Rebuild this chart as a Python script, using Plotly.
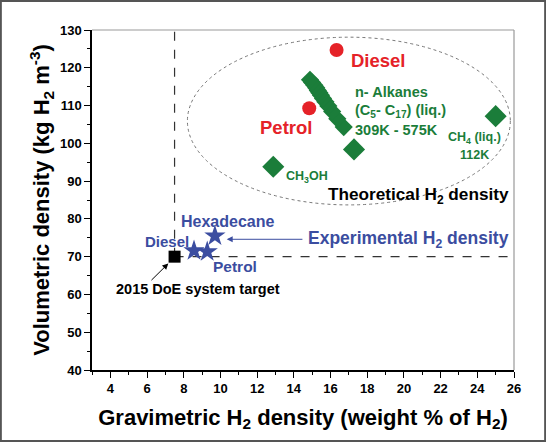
import plotly.graph_objects as go

# Data
theo_red_labels = ["Diesel", "Petrol"]
theo_red_x = [16.33, 14.84]
theo_red_y = [124.7, 109.3]

alkane_names = ["C5", "C6", "C7", "C8", "C9", "C10", "C11", "C12", "C13", "C14", "C15", "C16", "C17"]
alkane_x = [16.72, 16.37, 16.09, 15.88, 15.72, 15.59, 15.48, 15.39, 15.31, 15.22, 15.12, 15.0, 14.88]
alkane_y = [104.3, 106.5, 108.4, 109.9, 111.0, 111.9, 112.7, 113.4, 114.0, 114.7, 115.4, 116.1, 116.8]

other_green_labels = ["?", "CH3OH", "CH4 (liq.)"]
other_green_x = [17.28, 12.88, 25.0]
other_green_y = [98.4, 93.8, 107.2]

exp_labels = ["Hexadecane", "Diesel", "Petrol"]
exp_x = [9.70, 8.56, 9.28]
exp_y = [75.5, 71.6, 71.3]

target_x = [7.5]
target_y = [70.0]

x_ticks = list(range(4, 27, 2))
y_ticks = list(range(40, 131, 10))

RED = "#e52228"
GREEN = "#1b7d3a"
BLUE = "#3b4da0"
FONT = "Liberation Sans, Arial, sans-serif"

fig = go.Figure()

# ellipse
fig.add_shape(type="circle", xref="x", yref="y", x0=8.2, x1=25.8, y0=83.7, y1=128.1,
              line=dict(color="#777777", width=1, dash="dot"), layer="below")
# dashed target lines
fig.add_shape(type="line", xref="x", yref="y", x0=7.5, x1=7.5, y0=70, y1=130,
              line=dict(color="#333333", width=1.2, dash="dash"), layer="below")
fig.add_shape(type="line", xref="x", yref="y", x0=7.5, x1=26, y0=70, y1=70,
              line=dict(color="#333333", width=1.2, dash="dash"), layer="below")

fig.add_trace(go.Scatter(x=alkane_x, y=alkane_y, mode="markers",
                         marker=dict(symbol="diamond", size=14, color=GREEN), showlegend=False))
fig.add_trace(go.Scatter(x=other_green_x, y=other_green_y, mode="markers",
                         marker=dict(symbol="diamond", size=17, color=GREEN), showlegend=False))
fig.add_trace(go.Scatter(x=theo_red_x, y=theo_red_y, mode="markers",
                         marker=dict(symbol="circle", size=14, color=RED), showlegend=False))
fig.add_trace(go.Scatter(x=exp_x, y=exp_y, mode="markers",
                         marker=dict(symbol="star", size=16, color=BLUE), showlegend=False))
fig.add_trace(go.Scatter(x=target_x, y=target_y, mode="markers",
                         marker=dict(symbol="square", size=12, color="black"), showlegend=False))

def txt(x, y, s, color, size, xanchor="center"):
    fig.add_annotation(x=x, y=y, xref="x", yref="y", text="<b>" + s + "</b>", showarrow=False,
                       font=dict(color=color, size=size, family=FONT), xanchor=xanchor, yanchor="middle")

txt(18.64, 121.8, "Diesel", RED, 18.5)
txt(13.55, 104.3, "Petrol", RED, 18.5)
txt(17.25, 113.7, "n- Alkanes", GREEN, 14.5, "left")
txt(17.25, 108.6, "(C<sub>5</sub>- C<sub>17</sub>) (liq.)", GREEN, 14.5, "left")
txt(17.25, 103.4, "309K - 575K", GREEN, 14.5, "left")
txt(23.87, 101.5, "CH<sub>4</sub> (liq.)", GREEN, 12.5)
txt(23.87, 97.0, "112K", GREEN, 12.5)
txt(13.46, 91.2, "CH<sub>3</sub>OH", GREEN, 12.5, "left")
txt(25.85, 86.3, "Theoretical H<sub>2</sub> density", "black", 17.2, "right")
txt(10.37, 79.3, "Hexadecane", BLUE, 16)
txt(7.07, 74.0, "Diesel", BLUE, 15)
txt(10.79, 67.3, "Petrol", BLUE, 15.5)
txt(25.85, 74.6, "Experimental H<sub>2</sub> density", BLUE, 17.5, "right")
txt(8.80, 61.4, "2015 DoE system target", "black", 14.5)

# arrows
fig.add_annotation(x=10.34, y=74.6, ax=14.55, ay=74.6, xref="x", yref="y", axref="x", ayref="y",
                   text="", showarrow=True, arrowhead=2, arrowsize=1.2, arrowwidth=1, arrowcolor=BLUE)
fig.add_annotation(x=7.16, y=68.2, ax=6.16, ay=63.4, xref="x", yref="y", axref="x", ayref="y",
                   text="", showarrow=True, arrowhead=2, arrowsize=1.2, arrowwidth=1, arrowcolor="black")

# outer frame
fig.add_shape(type="rect", xref="paper", yref="paper",
              x0=-92/422 + 0.002, x1=1 + 32/422 - 0.002, y0=-72/340 + 0.003, y1=1 + 30/340 - 0.003,
              line=dict(color="#555555", width=2))

fig.update_xaxes(range=[3, 26], tickvals=x_ticks, ticktext=["<b>%d</b>" % v for v in x_ticks],
                 ticks="outside", ticklen=6, tickwidth=1.2,
                 tickcolor="black", showline=True, linecolor="black", linewidth=1.5, mirror=False,
                 showgrid=False, zeroline=False,
                 minor=dict(dtick=1, tick0=3, ticks="outside", ticklen=3, tickcolor="black", showgrid=False),
                 tickfont=dict(family=FONT, size=13, color="black", weight="bold"),
                 title=dict(text="<b>Gravimetric H<sub>2</sub> density (weight % of H<sub>2</sub>)</b>",
                            font=dict(family=FONT, size=22, color="black"), standoff=14))
fig.update_yaxes(range=[40, 130], tickvals=y_ticks, ticktext=["<b>%d</b>" % v for v in y_ticks],
                 ticks="outside", ticklen=6, tickwidth=1.2,
                 tickcolor="black", showline=True, linecolor="black", linewidth=1.5,
                 showgrid=False, zeroline=False,
                 minor=dict(dtick=5, tick0=40, ticks="outside", ticklen=3, tickcolor="black", showgrid=False),
                 tickfont=dict(family=FONT, size=13, color="black", weight="bold"),
                 title=dict(text="<b>Volumetric density (kg H<sub>2</sub> m<sup>-3</sup>)</b>",
                            font=dict(family=FONT, size=22, color="black"), standoff=4))
# top/right gray frame
fig.add_shape(type="line", xref="paper", yref="paper", x0=0, x1=1, y0=1, y1=1,
              line=dict(color="#999999", width=1.2))
fig.add_shape(type="line", xref="paper", yref="paper", x0=1, x1=1, y0=0, y1=1,
              line=dict(color="#999999", width=1.2))

fig.update_layout(width=546, height=442, margin=dict(l=92, r=32, t=30, b=72),
                  paper_bgcolor="white", plot_bgcolor="white", showlegend=False,
                  font=dict(family=FONT))

fig.write_html("out.html")
